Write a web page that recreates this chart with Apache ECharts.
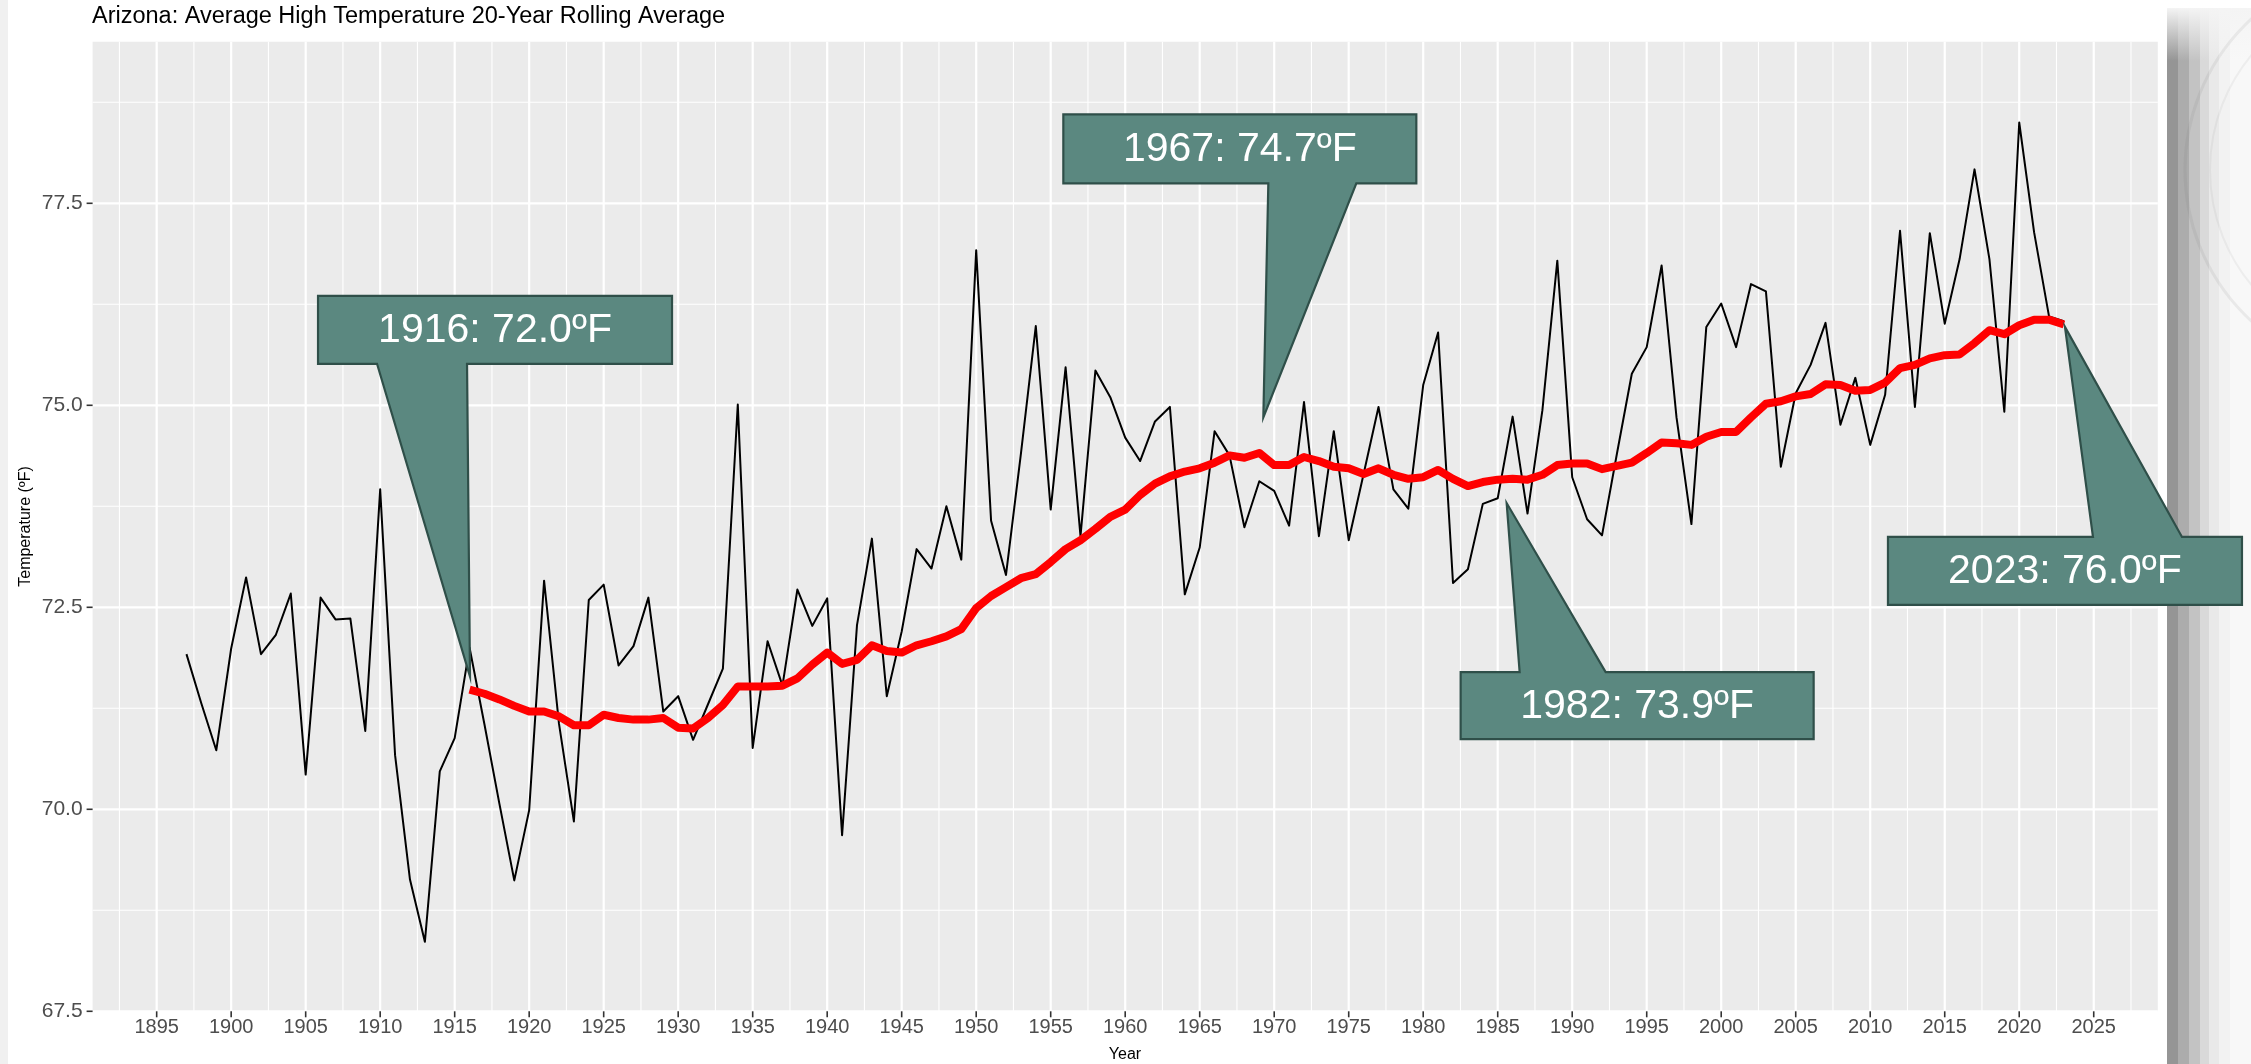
<!DOCTYPE html>
<html>
<head>
<meta charset="utf-8">
<title>Arizona: Average High Temperature 20-Year Rolling Average</title>
<script src="https://cdn.jsdelivr.net/npm/echarts@6/dist/echarts.min.js"></script>
<style>
  html, body { margin: 0; padding: 0; background: #ffffff; }
  #chart { width: 2251px; height: 1064px; }
</style>
</head>
<body>
<div id="chart"></div>
<script>
// Years with an annual average high temperature
const years = [
  1897, 1898, 1899,
  1900, 1901, 1902, 1903, 1904, 1905, 1906, 1907, 1908, 1909,
  1910, 1911, 1912, 1913, 1914, 1915, 1916, 1917, 1918, 1919,
  1920, 1921, 1922, 1923, 1924, 1925, 1926, 1927, 1928, 1929,
  1930, 1931, 1932, 1933, 1934, 1935, 1936, 1937, 1938, 1939,
  1940, 1941, 1942, 1943, 1944, 1945, 1946, 1947, 1948, 1949,
  1950, 1951, 1952, 1953, 1954, 1955, 1956, 1957, 1958, 1959,
  1960, 1961, 1962, 1963, 1964, 1965, 1966, 1967, 1968, 1969,
  1970, 1971, 1972, 1973, 1974, 1975, 1976, 1977, 1978, 1979,
  1980, 1981, 1982, 1983, 1984, 1985, 1986, 1987, 1988, 1989,
  1990, 1991, 1992, 1993, 1994, 1995, 1996, 1997, 1998, 1999,
  2000, 2001, 2002, 2003, 2004, 2005, 2006, 2007, 2008, 2009,
  2010, 2011, 2012, 2013, 2014, 2015, 2016, 2017, 2018, 2019,
  2020, 2021, 2022, 2023
];

// Annual average high temperature (ºF)
const annualHigh = [
  71.92, 71.31, 70.73,
  71.99, 72.87, 71.92, 72.16, 72.67, 70.43, 72.62, 72.35, 72.36, 70.97,
  73.96, 70.67, 69.13, 68.36, 70.47, 70.88, 72.00, 71.05, 70.07, 69.12,
  69.99, 72.83, 71.06, 69.85, 72.59, 72.78, 71.78, 72.02, 72.62, 71.21,
  71.40, 70.86, 71.30, 71.74, 75.01, 70.76, 72.08, 71.53, 72.72, 72.27,
  72.61, 69.68, 72.28, 73.35, 71.40, 72.20, 73.22, 72.98, 73.75, 73.09,
  76.92, 73.57, 72.90, 74.40, 75.98, 73.71, 75.47, 73.38, 75.43, 75.10,
  74.60, 74.31, 74.80, 74.98, 72.66, 73.24, 74.68, 74.38, 73.49, 74.06,
  73.94, 73.51, 75.04, 73.38, 74.68, 73.33, 74.15, 74.98, 73.96, 73.72,
  75.25, 75.90, 72.80, 72.97, 73.78, 73.85, 74.86, 73.66, 74.94, 76.79,
  74.11, 73.59, 73.39, 74.40, 75.39, 75.72, 76.73, 74.85, 73.53, 75.97,
  76.26, 75.72, 76.50, 76.41, 74.24, 75.15, 75.50, 76.02, 74.76, 75.34,
  74.51, 75.13, 77.16, 74.98, 77.13, 76.01, 76.81, 77.92, 76.81, 74.92,
  78.50, 77.14, 76.10, 76.04
];

// 20-year rolling average (ºF), first available in 1916
const rollingYears = years.slice(years.indexOf(1916));
const rollingAvg = [
  71.48, 71.43, 71.36, 71.28,
  71.21, 71.21, 71.15, 71.04, 71.04, 71.17, 71.13, 71.11, 71.11, 71.13,
  71.01, 71.00, 71.13, 71.29, 71.52, 71.52, 71.52, 71.53, 71.62, 71.79,
  71.94, 71.80, 71.85, 72.03, 71.96, 71.94, 72.03, 72.08, 72.14, 72.23,
  72.49, 72.64, 72.75, 72.86, 72.91, 73.06, 73.22, 73.33, 73.47, 73.62,
  73.71, 73.89, 74.03, 74.12, 74.18, 74.22, 74.29, 74.38, 74.35, 74.41,
  74.26, 74.26, 74.36, 74.31, 74.24, 74.22, 74.15, 74.22, 74.14, 74.09,
  74.11, 74.20, 74.09, 74.00, 74.05, 74.08, 74.09, 74.08, 74.14, 74.26,
  74.28, 74.28, 74.21, 74.25, 74.29, 74.41, 74.54, 74.53, 74.51, 74.61,
  74.67, 74.67, 74.85, 75.02, 75.05, 75.11, 75.14, 75.26, 75.25, 75.18,
  75.19, 75.28, 75.46, 75.50, 75.58, 75.62, 75.63, 75.77, 75.93, 75.88,
  75.99, 76.06, 76.06, 76.00
];

// Axis breaks
const xTickYears = [1895, 1900, 1905, 1910, 1915, 1920, 1925, 1930, 1935, 1940, 1945,
  1950, 1955, 1960, 1965, 1970, 1975, 1980, 1985, 1990, 1995, 2000, 2005, 2010,
  2015, 2020, 2025];
const yTickValues = [67.5, 70.0, 72.5, 75.0, 77.5];
const yTickLabels = ['67.5', '70.0', '72.5', '75.0', '77.5'];

// Callout annotations: label text and the point the pointer aims at
const calloutLabels = ['1916: 72.0ºF', '1967: 74.7ºF', '1982: 73.9ºF', '2023: 76.0ºF'];
const calloutTipYears = [1916.03, 1969.27, 1985.6, 2023.07];
const calloutTipValues = [71.64, 74.85, 73.79, 75.97];

// Callout box geometry in pixels, relative to the pointer tip
const calloutShapes = [
  { left: -152, right: 202, top: -381, bottom: -313, w0: -93, w1: -3, edge: 'bottom' },
  { left: -200, right: 153, top: -303, bottom: -234, w0: 5, w1: 93, edge: 'bottom' },
  { left: -46, right: 307, top: 169, bottom: 236, w0: 13, w1: 99, edge: 'top' },
  { left: -177, right: 177, top: 210, bottom: 278, w0: 28, w1: 117, edge: 'top' }
];

const FONT = '"Liberation Sans", Arial, Helvetica, sans-serif';
const X_MIN = 1890.7, X_MAX = 2029.3, Y_MIN = 67.5, Y_MAX = 79.5;

// Gridlines: majors on the breaks, minors half way between (and just outside)
const gridItems = [];
xTickYears.forEach(function (v) { gridItems.push([v, 0, 1]); });
[xTickYears[0] - 2.5].concat(xTickYears.map(function (v) { return v + 2.5; }))
  .filter(function (v) { return v > X_MIN && v < X_MAX; })
  .forEach(function (v) { gridItems.push([v, 0, 0]); });
yTickValues.forEach(function (v) { gridItems.push([v, 1, 1]); });
yTickValues.map(function (v) { return v + 1.25; })
  .filter(function (v) { return v > Y_MIN && v < Y_MAX; })
  .forEach(function (v) { gridItems.push([v, 1, 0]); });

const axisItems = [];
xTickYears.forEach(function (v, i) { axisItems.push([v, 0, i]); });
yTickValues.forEach(function (v, i) { axisItems.push([v, 1, i]); });

const chart = echarts.init(document.getElementById('chart'), null, { renderer: 'canvas' });

function renderGrid(params, api) {
  const cs = params.coordSys;
  const v = api.value(0), dir = api.value(1), major = api.value(2);
  const lw = major ? 2.2 : 1.1;
  if (dir === 0) {
    const x = api.coord([v, Y_MIN])[0];
    return { type: 'line', shape: { x1: x, y1: cs.y, x2: x, y2: cs.y + cs.height },
      style: { stroke: '#ffffff', lineWidth: lw } };
  }
  const y = api.coord([X_MIN, v])[1];
  return { type: 'line', shape: { x1: cs.x, y1: y, x2: cs.x + cs.width, y2: y },
    style: { stroke: '#ffffff', lineWidth: lw } };
}

function renderAxis(params, api) {
  const cs = params.coordSys;
  const v = api.value(0), dir = api.value(1), idx = api.value(2);
  if (dir === 0) {
    const x = api.coord([v, Y_MIN])[0];
    const yb = cs.y + cs.height;
    return { type: 'group', children: [
      { type: 'line', shape: { x1: x, y1: yb, x2: x, y2: yb + 6 },
        style: { stroke: '#333333', lineWidth: 1.6 } },
      { type: 'text', style: { text: String(xTickYears[idx]), x: x, y: yb + 16,
        fill: '#4d4d4d', fontSize: 20, fontFamily: FONT, align: 'center', verticalAlign: 'middle' } }
    ] };
  }
  const y = api.coord([X_MIN, v])[1];
  return { type: 'group', children: [
    { type: 'line', shape: { x1: cs.x - 6, y1: y, x2: cs.x, y2: y },
      style: { stroke: '#333333', lineWidth: 1.6 } },
    { type: 'text', style: { text: yTickLabels[idx], x: cs.x - 10, y: y,
      fill: '#4d4d4d', fontSize: 21, fontFamily: FONT, align: 'right', verticalAlign: 'middle' } }
  ] };
}

function renderCallout(params, api) {
  const i = params.dataIndex;
  const s = calloutShapes[i];
  const tip = api.coord([api.value(0), api.value(1)]);
  const tx = tip[0], ty = tip[1];
  const L = tx + s.left, R = tx + s.right, T = ty + s.top, B = ty + s.bottom;
  let pts;
  if (s.edge === 'bottom') {
    pts = [[L, T], [R, T], [R, B], [tx + s.w1, B], [tx, ty], [tx + s.w0, B], [L, B]];
  } else {
    pts = [[L, T], [tx + s.w0, T], [tx, ty], [tx + s.w1, T], [R, T], [R, B], [L, B]];
  }
  return { type: 'group', children: [
    { type: 'polygon', shape: { points: pts },
      style: { fill: '#5b8880', stroke: '#2f4f49', lineWidth: 2.2, lineJoin: 'miter' } },
    { type: 'text', style: { text: calloutLabels[i], x: (L + R) / 2, y: (T + B) / 2 + 1,
      fill: '#ffffff', fontSize: 41, fontFamily: FONT, align: 'center', verticalAlign: 'middle' } }
  ] };
}

// Slide frame on the right: stepped grey bands with a faint seal
const bandColors = ['#959595', '#acacac', '#c3c3c3', '#d9d9d9', '#e9e9e9', '#f2f2f2', '#f8f8f8'];
const bandEdges = [2167, 2178, 2189, 2200, 2209, 2219, 2230, 2251];
const frameGraphics = bandColors.map(function (c, i) {
  return {
    type: 'rect', silent: true, z: -10,
    shape: { x: bandEdges[i], y: 8, width: bandEdges[i + 1] - bandEdges[i], height: 1056 },
    style: { fill: { type: 'linear', x: 0, y: 0, x2: 0, y2: 1,
      colorStops: [{ offset: 0, color: '#f4f4f4' }, { offset: 0.05, color: c }, { offset: 1, color: c }] } }
  };
});
frameGraphics.push({ type: 'rect', silent: true, z: -10,
  shape: { x: 0, y: 0, width: 8, height: 1064 }, style: { fill: '#f0f0f0' } });
frameGraphics.push({ type: 'circle', silent: true, z: -5,
  shape: { cx: 2390, cy: 170, r: 205 }, style: { fill: 'none', stroke: 'rgba(110,110,110,0.10)', lineWidth: 3 } });
frameGraphics.push({ type: 'circle', silent: true, z: -5,
  shape: { cx: 2390, cy: 170, r: 180 }, style: { fill: 'none', stroke: 'rgba(110,110,110,0.08)', lineWidth: 2 } });

// Titles
frameGraphics.push({ type: 'text', silent: true,
  style: { text: 'Arizona: Average High Temperature 20-Year Rolling Average', x: 92, y: 17,
    fill: '#000000', fontSize: 23.5, fontFamily: FONT, align: 'left', verticalAlign: 'middle' } });
frameGraphics.push({ type: 'text', silent: true,
  style: { text: 'Year', x: 1125, y: 1055, fill: '#000000', fontSize: 16, fontFamily: FONT,
    align: 'center', verticalAlign: 'middle' } });
frameGraphics.push({ type: 'text', silent: true, x: 26, y: 526.5, rotation: Math.PI / 2,
  style: { text: 'Temperature (ºF)', x: 0, y: 0, fill: '#000000', fontSize: 16, fontFamily: FONT,
    align: 'center', verticalAlign: 'middle' } });

chart.setOption({
  animation: false,
  backgroundColor: '#ffffff',
  grid: { left: 92.6, right: 93.2, top: 41.7, bottom: 52.7, show: true,
    backgroundColor: '#ebebeb', borderWidth: 0 },
  xAxis: { type: 'value', min: X_MIN, max: X_MAX,
    axisLine: { show: false }, axisTick: { show: false }, axisLabel: { show: false }, splitLine: { show: false } },
  yAxis: { type: 'value', min: Y_MIN, max: Y_MAX,
    axisLine: { show: false }, axisTick: { show: false }, axisLabel: { show: false }, splitLine: { show: false } },
  graphic: frameGraphics,
  series: [
    { type: 'custom', name: 'grid', silent: true, z: 1, clip: false,
      data: gridItems, renderItem: renderGrid },
    { type: 'custom', name: 'axes', silent: true, z: 1, clip: false,
      data: axisItems, renderItem: renderAxis },
    { type: 'line', name: 'Annual average high', z: 3, showSymbol: false, symbol: 'none',
      data: years.map(function (y, i) { return [y, annualHigh[i]]; }),
      lineStyle: { color: '#000000', width: 2, join: 'round' } },
    { type: 'line', name: '20-year rolling average', z: 4, showSymbol: false, symbol: 'none',
      data: rollingYears.map(function (y, i) { return [y, rollingAvg[i]]; }),
      lineStyle: { color: '#ff0000', width: 8, join: 'round', cap: 'butt' } },
    { type: 'custom', name: 'callouts', silent: true, z: 10, clip: false,
      data: calloutTipYears.map(function (y, i) { return [y, calloutTipValues[i]]; }),
      renderItem: renderCallout }
  ]
});
</script>
</body>
</html>
